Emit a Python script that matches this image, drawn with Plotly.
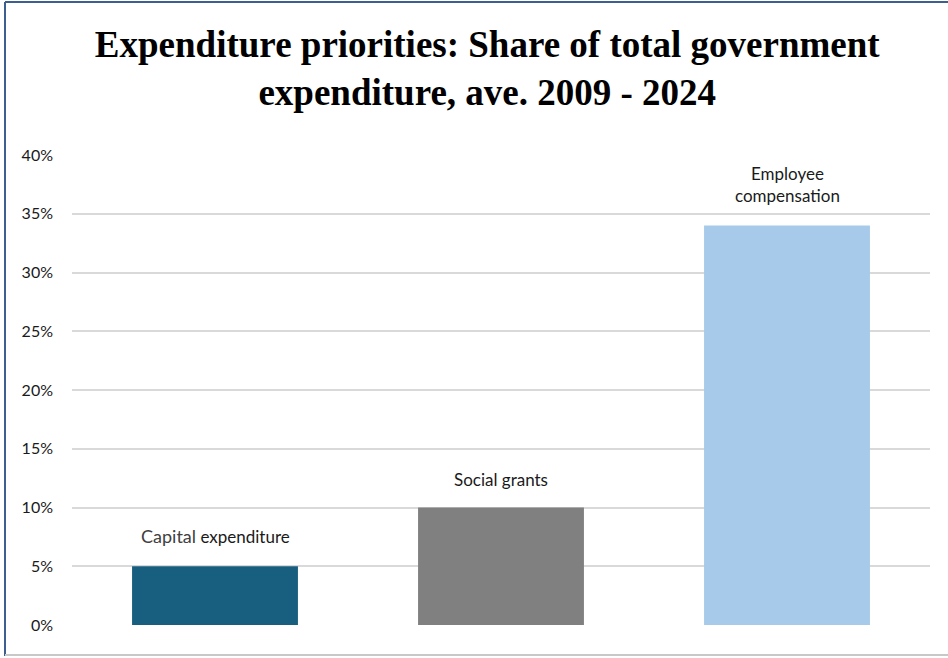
import plotly.graph_objects as go

categories = ["Capital expenditure", "Social grants", "Employee compensation"]
values = [5.0, 10.0, 34.0]
colors = ["#185f7f", "#808080", "#a7c9ea"]
label_texts = [
    "<span style='font-size:18px;color:#404040'>Capital</span> expenditure",
    "Social grants",
    "Employee<br>compensation",
]
tick_vals = [0, 5, 10, 15, 20, 25, 30, 35, 40]
tick_text = ["0%", "5%", "10%", "15%", "20%", "25%", "30%", "35%", "40%"]
title_text = "Expenditure priorities: Share of total government<br>expenditure, ave. 2009 - 2024"

fig = go.Figure()
fig.add_trace(go.Bar(
    x=categories, y=values, marker=dict(color=colors, line=dict(width=0)),
    width=0.58, hoverinfo="skip", showlegend=False,
))

shifts = [17, 16, 18]
for cat, v, t, s in zip(categories, values, label_texts, shifts):
    fig.add_annotation(
        x=cat, y=v, text=t, showarrow=False, yanchor="bottom", yshift=s,
        font=dict(family="Lato, Open Sans, sans-serif", size=17, color="#1a1a1a"),
        align="center",
    )

px_x = lambda p: (p - 72) / 858
px_y = lambda p: (625 - p) / 470
# frame border
fig.add_shape(type="line", xref="paper", yref="paper", x0=px_x(5), x1=px_x(5), y0=px_y(656), y1=px_y(2),
              line=dict(color="#3d5f8f", width=2))
fig.add_shape(type="line", xref="paper", yref="paper", x0=px_x(5), x1=px_x(960), y0=px_y(2), y1=px_y(2),
              line=dict(color="#3d5f8f", width=2))
fig.add_shape(type="line", xref="paper", yref="paper", x0=px_x(5), x1=px_x(960), y0=px_y(655), y1=px_y(655),
              line=dict(color="#c8c8c8", width=2))

fig.update_layout(
    width=948, height=658,
    margin=dict(l=72, r=18, t=155, b=33),
    paper_bgcolor="white", plot_bgcolor="white",
    title=dict(text=title_text, x=0.514, xanchor="center", y=0.914, yanchor="middle",
               font=dict(family="Liberation Serif, Times New Roman, serif", size=37, color="black", weight="bold")),
    xaxis=dict(showticklabels=False, showgrid=False, zeroline=False, showline=False, ticks=""),
    yaxis=dict(range=[0, 40], tickvals=tick_vals, ticktext=tick_text,
               showgrid=True, gridcolor="#d9d9d9", gridwidth=2, zeroline=False, showline=False,
               ticklabelstandoff=18,
               tickfont=dict(family="Lato, Open Sans, sans-serif", size=16, color="#1a1a1a")),
    bargap=0.42,
)

fig.write_html("out.html")
